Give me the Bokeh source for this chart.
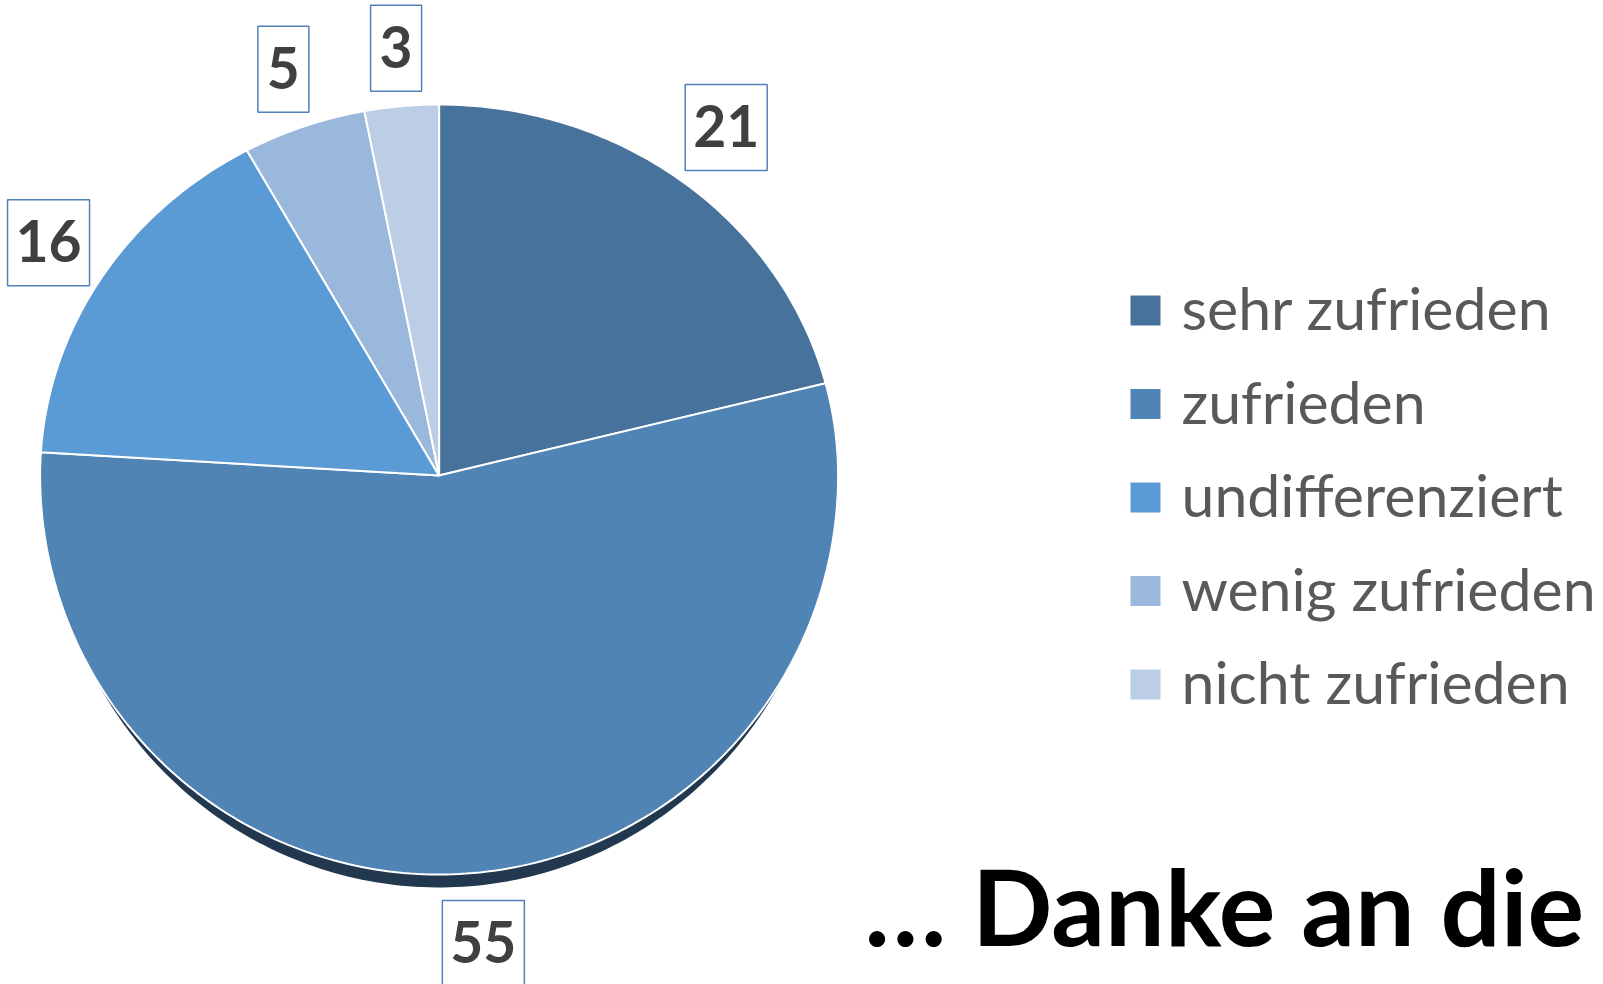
import numpy as np
from bokeh.plotting import figure
from bokeh.models import Range1d, ColumnDataSource
from bokeh.core.properties import value
from bokeh.embed import file_html
from bokeh.resources import INLINE

# ---- data ----
categories = ["sehr zufrieden", "zufrieden", "undifferenziert", "wenig zufrieden", "nicht zufrieden"]
counts = [21, 55, 16, 5, 3]
colors = ["#46729c", "#4f84b5", "#5b9bd5", "#99b8dc", "#bccde6"]
footer_text = ["… Danke an die"]

# ---- layout (page pixels, y measured downward from the top) ----
W, H = 1603, 984

def yd(ypix):
    return H - np.asarray(ypix, dtype=float)

p = figure(width=W, height=H, output_backend="svg", toolbar_location=None,
           x_range=Range1d(0, W), y_range=Range1d(0, H),
           x_axis_location=None, y_axis_location=None, min_border=0)
p.grid.visible = False
p.outline_line_color = None
p.background_fill_color = "white"
p.border_fill_color = "white"

def base_shift(fs):
    # baseline correction for text rendering
    return 0.387 * fs

# slightly tilted pie: different radii above / below the centre
cx, cy = 438.6, float(yd(475))
rx, ry_top, ry_bot = 399.0, 371.0, 399.0
shadow = 13.0

vals = np.array(counts, dtype=float)
frac = vals / vals.sum()
cum_end = np.cumsum(frac)
cum_start = cum_end - frac

def edge(theta, dyoff=0.0, shrink=0.0):
    # theta: clockwise angle from 12 o'clock
    s, c = np.sin(theta), np.cos(theta)
    ry = np.where(c >= 0, ry_top, ry_bot)
    return cx + (rx - shrink) * s, cy + ry * c + dyoff

def slice_poly(a0, a1, dyoff=0.0, shrink=0.0):
    th = np.linspace(a0, a1, max(4, int(np.degrees(a1 - a0))))
    ex, ey = edge(th, dyoff, shrink)
    return np.concatenate([[cx], ex, [cx]]), np.concatenate([[cy + dyoff], ey, [cy + dyoff]])

# shadow (full disc shifted down)
sx, sy = slice_poly(0, 2 * np.pi, -shadow, 8.0)
shadow_src = ColumnDataSource(dict(xs=[sx[1:-1]], ys=[sy[1:-1]]))
p.patches("xs", "ys", fill_color="#22384f", line_color=None, source=shadow_src)

xs, ys = [], []
for a, b in zip(cum_start, cum_end):
    px_, py_ = slice_poly(2 * np.pi * a, 2 * np.pi * b)
    xs.append(px_)
    ys.append(py_)
src = ColumnDataSource(dict(xs=xs, ys=ys, color=colors, cat=categories, n=counts))
p.patches("xs", "ys", fill_color="color", line_color="white", line_width=2, source=src)

# data labels (outside end)
mid = 2 * np.pi * (cum_start + cum_end) / 2
dx, dy = np.sin(mid), np.cos(mid)
ex, ey = edge(mid)
labels = [str(c) for c in counts]
bw = np.array([20 + 31 * len(s) for s in labels], dtype=float)
bh = 86.0
t = np.minimum((bw / 2) / np.maximum(np.abs(dx), 1e-6), (bh / 2) / np.maximum(np.abs(dy), 1e-6))
g = 15 + shadow * np.maximum(0, -dy)
lx = ex + (g + t) * dx
ly = ey + (g + t) * dy
lab_fs = 57
lab = ColumnDataSource(dict(x=lx, y=ly, ty=ly - 20.5 + base_shift(lab_fs), w=bw,
                            h=np.full(len(labels), bh), text=labels))
p.rect(x="x", y="y", width="w", height="h", fill_color="white", line_color="#5080b8",
       line_width=1.5, source=lab)
p.text(x="x", y="ty", text="text", text_align="center", text_baseline="alphabetic",
       text_font=value("Lato"), text_font_style="bold", text_font_size=f"{lab_fs}px",
       text_color="#404040", source=lab)

# legend
leg_fs = 59
rows = np.arange(len(categories))
row_pix = 310 + 93.5 * rows
n = len(categories)
leg = ColumnDataSource(dict(sx=np.full(n, 1145.0), tx=np.full(n, 1181.0),
                            sw=np.full(n, 30.0),
                            y=yd(row_pix), ty=yd(row_pix + 20) + base_shift(leg_fs),
                            color=colors, text=categories))
p.rect(x="sx", y="y", width="sw", height="sw", fill_color="color", line_color=None, source=leg)
p.text(x="tx", y="ty", text="text", text_align="left", text_baseline="alphabetic",
       text_font=value("Lato"), text_font_size=f"{leg_fs}px", text_color="#595959", source=leg)

# footer (font size chosen to avoid an SVG font-parse quirk with sizes like 100px)
foot_fs = 106
fy = float(yd(946)) + base_shift(foot_fs)
foot = ColumnDataSource(dict(x=[864.0], y=[fy], text=footer_text))
p.text(x="x", y="y", text="text", text_align="left", text_baseline="alphabetic",
       text_font=value("Lato"), text_font_style="bold", text_font_size=f"{foot_fs}px",
       text_color="#000000", source=foot)

open("out.html", "w").write(file_html(p, INLINE))
